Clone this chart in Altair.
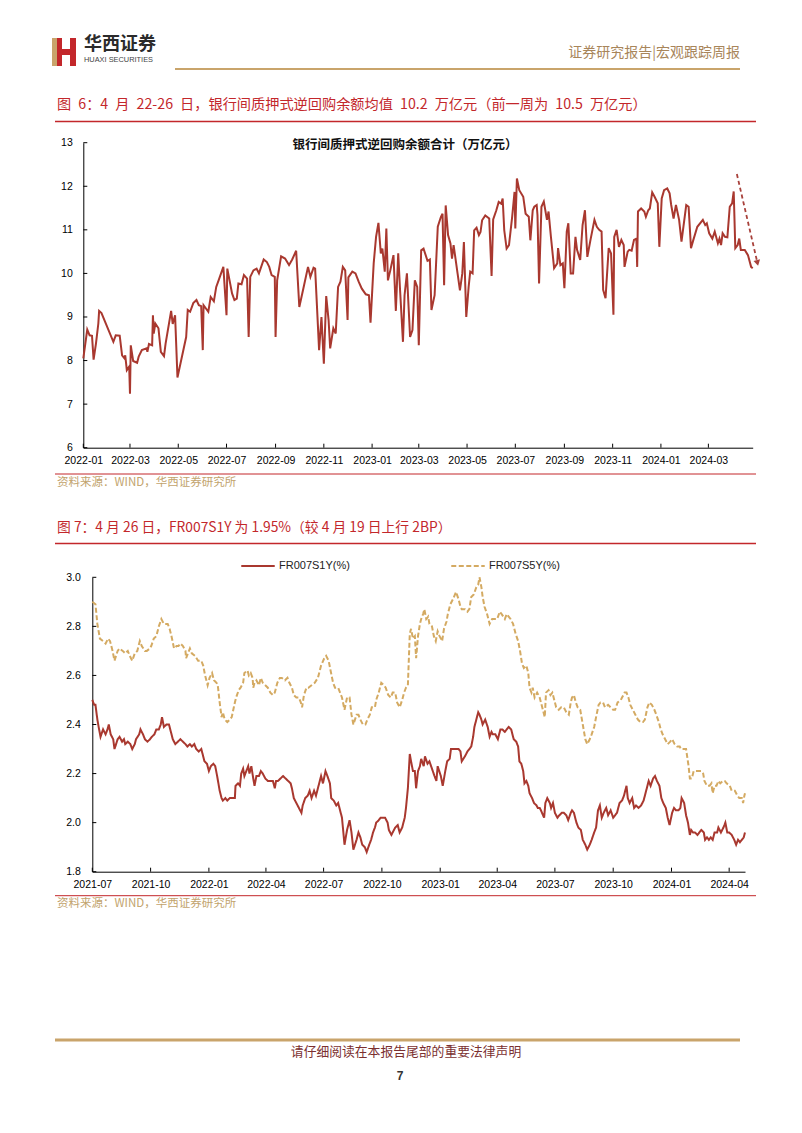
import altair as alt
import pandas as pd

# ---------------- data ----------------
# Fig 6: interbank pledged reverse-repo balance, 10k-billion CNY; days since 2022-01-01
repo_day = [0, 5, 8, 11, 13, 16, 19, 20, 23, 38, 41, 46, 49, 52, 53, 55, 58, 59, 60, 63, 68, 70, 74, 80, 81, 83, 87, 88, 89, 91, 95, 98, 102, 104, 111, 113, 116, 119, 130, 132, 135, 139, 143, 146, 149, 151, 152, 158, 161, 165, 168, 171, 177, 181, 182, 184, 188, 191, 194, 196, 200, 203, 207, 209, 211, 215, 219, 222, 228, 232, 235, 238, 242, 243, 245, 250, 255, 260, 264, 269, 273, 279, 284, 287, 291, 293, 298, 301, 304, 307, 310, 312, 316, 319, 322, 325, 328, 331, 334, 335, 340, 344, 348, 352, 357, 361, 363, 367, 370, 373, 376, 378, 381, 383, 385, 388, 392, 395, 398, 400, 404, 406, 409, 413, 416, 419, 422, 424, 427, 430, 435, 438, 440, 444, 448, 452, 454, 456, 458, 461, 464, 466, 468, 473, 476, 479, 481, 484, 487, 489, 492, 494, 497, 500, 502, 504, 508, 513, 516, 518, 522, 525, 528, 530, 532, 535, 538, 542, 545, 546, 548, 551, 556, 559, 563, 565, 568, 570, 573, 574, 576, 579, 582, 586, 588, 591, 595, 599, 600, 603, 606, 608, 611, 613, 616, 619, 622, 624, 628, 631, 634, 637, 641, 646, 649, 652, 655, 657, 660, 664, 667, 670, 671, 674, 677, 680, 683, 684, 688, 690, 693, 696, 699, 700, 701, 705, 709, 711, 714, 716, 719, 722, 726, 728, 731, 734, 738, 741, 743, 746, 749, 753, 756, 762, 765, 768, 771, 776, 783, 786, 788, 791, 795, 798, 802, 804, 806, 808, 811, 814, 817, 820, 822, 824, 827, 829, 831, 836, 840, 844, 846]
repo_val = [8.05, 8.71, 8.58, 8.57, 8.02, 8.39, 8.85, 9.14, 9.09, 8.43, 8.58, 8.57, 8.12, 8.05, 8.12, 7.78, 7.86, 7.24, 8.35, 7.99, 7.95, 8.09, 8.24, 8.28, 8.20, 8.38, 8.35, 9.04, 8.62, 8.85, 8.74, 8.20, 8.10, 8.39, 9.14, 8.84, 9.04, 7.61, 8.54, 9.16, 9.12, 9.32, 9.39, 9.27, 9.25, 8.24, 9.27, 9.12, 9.46, 9.36, 9.69, 9.84, 10.15, 9.04, 10.11, 9.92, 9.54, 9.39, 9.42, 9.77, 9.75, 9.96, 9.88, 8.54, 9.92, 10.07, 10.11, 10.00, 10.32, 10.26, 10.15, 9.96, 9.92, 8.54, 9.84, 10.39, 10.34, 10.19, 10.32, 10.52, 9.23, 9.73, 10.15, 9.92, 10.13, 10.11, 8.24, 9.00, 7.93, 9.48, 8.93, 8.28, 8.74, 8.62, 9.69, 9.81, 10.15, 10.07, 8.93, 9.91, 10.04, 10.00, 9.81, 9.65, 9.52, 9.50, 8.87, 10.23, 10.84, 11.16, 10.46, 10.57, 10.04, 11.03, 9.84, 10.07, 10.42, 9.14, 10.46, 9.73, 8.43, 9.50, 10.00, 8.54, 8.70, 9.84, 9.69, 8.35, 10.53, 10.57, 10.29, 10.32, 9.16, 9.50, 11.07, 11.30, 11.37, 9.73, 11.56, 10.88, 10.69, 10.34, 10.65, 10.00, 9.61, 10.00, 10.72, 9.00, 9.69, 10.04, 10.00, 10.99, 11.05, 10.88, 10.95, 11.22, 11.33, 11.26, 9.94, 11.24, 11.45, 11.64, 11.60, 11.72, 10.99, 10.57, 10.65, 11.30, 11.87, 11.03, 12.18, 11.91, 11.76, 11.37, 11.30, 10.76, 11.45, 11.53, 11.57, 11.34, 9.77, 11.53, 11.65, 11.23, 11.42, 10.84, 10.12, 10.23, 10.58, 10.19, 10.23, 9.66, 10.96, 11.15, 10.00, 10.00, 10.84, 10.54, 10.31, 11.11, 11.45, 10.38, 10.77, 11.23, 11.07, 11.00, 10.96, 9.62, 9.43, 10.58, 10.46, 9.05, 10.84, 11.00, 10.61, 10.77, 10.65, 10.15, 10.50, 10.54, 10.52, 10.77, 10.80, 10.15, 11.42, 11.49, 11.42, 11.30, 11.45, 11.49, 11.86, 11.76, 11.61, 10.61, 11.72, 11.91, 11.95, 11.84, 11.57, 11.26, 11.57, 11.23, 10.73, 11.57, 11.53, 10.58, 10.77, 11.07, 11.23, 11.11, 11.15, 10.92, 10.80, 10.96, 10.69, 10.80, 10.65, 10.92, 10.84, 10.83, 11.53, 11.61, 11.88, 10.58, 10.65, 10.80, 10.54, 10.54, 10.42, 10.15, 10.12]
repo_xticks = ["2022-01-01", "2022-03-01", "2022-05-01", "2022-07-01", "2022-09-01", "2022-11-01",
               "2023-01-01", "2023-03-01", "2023-05-01", "2023-07-01", "2023-09-01", "2023-11-01",
               "2024-01-01", "2024-03-01"]
repo_yticks = [6, 7, 8, 9, 10, 11, 12, 13]
arrow_day = [826, 852]          # annotation arrow, days since 2022-01-01
arrow_val = [12.28, 10.24]

# Fig 7: FR007 swap rates (%), days since 2021-07-01
s1y_day = [0, 3, 5, 8, 10, 13, 17, 21, 24, 26, 29, 33, 35, 40, 43, 47, 50, 52, 56, 60, 63, 67, 69, 74, 76, 80, 83, 87, 91, 94, 98, 101, 105, 108, 110, 113, 117, 121, 124, 127, 131, 135, 139, 143, 147, 150, 154, 157, 161, 164, 168, 172, 175, 177, 181, 184, 187, 191, 194, 197, 201, 204, 206, 210, 213, 217, 220, 225, 226, 230, 233, 235, 238, 240, 243, 246, 248, 251, 254, 256, 259, 263, 266, 269, 273, 277, 281, 285, 288, 290, 293, 297, 301, 305, 309, 313, 315, 318, 322, 326, 330, 332, 336, 340, 343, 346, 350, 353, 357, 361, 364, 368, 371, 375, 377, 381, 385, 388, 391, 394, 398, 402, 406, 409, 412, 417, 420, 423, 426, 430, 433, 437, 440, 443, 446, 448, 452, 455, 459, 462, 466, 468, 472, 474, 478, 482, 485, 489, 493, 495, 498, 501, 503, 506, 509, 511, 514, 517, 519, 523, 525, 529, 532, 536, 540, 543, 545, 550, 553, 557, 560, 564, 566, 571, 574, 578, 581, 583, 588, 592, 595, 598, 601, 603, 606, 609, 611, 614, 616, 620, 624, 627, 630, 632, 636, 640, 644, 647, 651, 654, 657, 661, 665, 669, 672, 674, 677, 680, 682, 685, 688, 690, 694, 697, 701, 703, 706, 708, 713, 715, 718, 722, 724, 727, 730, 734, 737, 741, 744, 748, 751, 755, 757, 760, 764, 767, 771, 774, 778, 781, 785, 788, 792, 795, 798, 801, 804, 807, 811, 814, 818, 822, 825, 828, 832, 836, 839, 843, 845, 848, 852, 855, 858, 862, 866, 870, 874, 878, 881, 885, 888, 891, 895, 898, 901, 905, 908, 911, 915, 918, 921, 925, 928, 930, 934, 937, 940, 943, 945, 948, 951, 955, 958, 961, 965, 967, 970, 973, 976, 979, 982, 986, 988, 992, 996, 999, 1002, 1005, 1009, 1013, 1016, 1019, 1022, 1025, 1028, 1030]
s1y_val = [2.50, 2.48, 2.48, 2.42, 2.39, 2.35, 2.38, 2.36, 2.38, 2.40, 2.36, 2.34, 2.30, 2.34, 2.35, 2.33, 2.34, 2.32, 2.33, 2.32, 2.30, 2.32, 2.34, 2.36, 2.38, 2.36, 2.34, 2.33, 2.34, 2.35, 2.36, 2.38, 2.38, 2.40, 2.43, 2.39, 2.40, 2.40, 2.37, 2.34, 2.32, 2.33, 2.34, 2.33, 2.32, 2.31, 2.32, 2.31, 2.32, 2.30, 2.29, 2.30, 2.27, 2.25, 2.24, 2.21, 2.23, 2.24, 2.23, 2.19, 2.13, 2.10, 2.09, 2.10, 2.09, 2.10, 2.10, 2.10, 2.15, 2.16, 2.15, 2.20, 2.22, 2.19, 2.21, 2.23, 2.20, 2.23, 2.18, 2.15, 2.19, 2.19, 2.21, 2.20, 2.18, 2.17, 2.17, 2.17, 2.14, 2.17, 2.17, 2.18, 2.19, 2.18, 2.17, 2.16, 2.14, 2.10, 2.08, 2.06, 2.04, 2.07, 2.10, 2.11, 2.13, 2.10, 2.13, 2.11, 2.15, 2.19, 2.16, 2.21, 2.19, 2.16, 2.10, 2.09, 2.07, 2.08, 2.05, 2.02, 1.91, 1.97, 2.01, 1.96, 1.89, 1.93, 1.96, 1.94, 1.91, 1.90, 1.88, 1.91, 1.93, 1.96, 1.98, 2.00, 2.01, 2.02, 2.02, 2.02, 2.00, 1.97, 1.95, 1.96, 1.98, 1.99, 1.96, 1.98, 2.02, 2.06, 2.14, 2.28, 2.25, 2.21, 2.21, 2.14, 2.21, 2.23, 2.26, 2.23, 2.27, 2.24, 2.25, 2.22, 2.19, 2.17, 2.23, 2.19, 2.15, 2.21, 2.25, 2.26, 2.30, 2.30, 2.30, 2.30, 2.29, 2.25, 2.27, 2.29, 2.30, 2.31, 2.35, 2.39, 2.42, 2.45, 2.44, 2.42, 2.40, 2.42, 2.39, 2.35, 2.37, 2.36, 2.36, 2.34, 2.38, 2.38, 2.37, 2.38, 2.39, 2.38, 2.34, 2.33, 2.31, 2.25, 2.24, 2.21, 2.16, 2.17, 2.15, 2.12, 2.10, 2.08, 2.07, 2.06, 2.06, 2.05, 2.02, 2.08, 2.10, 2.08, 2.06, 2.08, 2.04, 2.02, 2.03, 2.04, 2.04, 2.03, 2.01, 2.04, 2.05, 2.04, 2.00, 1.98, 1.97, 1.93, 1.91, 1.89, 1.91, 1.93, 1.96, 1.98, 2.05, 2.07, 2.02, 2.04, 2.06, 2.03, 2.05, 2.02, 2.03, 2.04, 2.08, 2.09, 2.11, 2.15, 2.10, 2.08, 2.10, 2.06, 2.07, 2.06, 2.07, 2.09, 2.13, 2.17, 2.15, 2.18, 2.19, 2.17, 2.15, 2.10, 2.08, 2.06, 2.02, 1.99, 2.04, 2.06, 2.05, 2.05, 2.06, 2.10, 2.08, 2.03, 2.00, 1.95, 1.97, 1.96, 1.96, 1.95, 1.96, 1.97, 1.96, 1.93, 1.94, 1.93, 1.94, 1.93, 1.96, 1.96, 1.98, 1.96, 1.98, 2.00, 1.96, 1.96, 1.95, 1.93, 1.91, 1.93, 1.92, 1.93, 1.94, 1.96]
s5y_day = [0, 5, 8, 12, 17, 21, 25, 28, 32, 35, 40, 43, 48, 52, 56, 59, 63, 67, 71, 75, 78, 83, 86, 91, 93, 97, 101, 105, 109, 113, 117, 119, 122, 125, 129, 133, 136, 139, 143, 147, 148, 154, 157, 162, 167, 172, 175, 178, 182, 185, 189, 192, 196, 198, 201, 204, 206, 209, 213, 217, 220, 225, 227, 231, 234, 238, 240, 245, 247, 250, 253, 254, 256, 259, 263, 266, 269, 273, 277, 281, 285, 288, 292, 296, 299, 304, 308, 311, 315, 318, 322, 326, 329, 331, 334, 338, 341, 346, 351, 356, 361, 366, 369, 373, 376, 380, 383, 388, 391, 394, 398, 402, 406, 409, 412, 417, 420, 423, 427, 431, 434, 438, 441, 446, 448, 452, 456, 460, 463, 467, 471, 474, 478, 481, 485, 489, 492, 495, 498, 501, 503, 506, 509, 511, 514, 517, 519, 522, 524, 527, 530, 532, 536, 539, 542, 545, 548, 552, 555, 559, 561, 565, 569, 574, 578, 581, 583, 588, 592, 595, 598, 602, 606, 609, 611, 614, 616, 619, 623, 627, 631, 635, 639, 643, 646, 651, 654, 657, 660, 664, 668, 672, 675, 678, 681, 685, 688, 690, 693, 695, 698, 702, 706, 708, 711, 714, 716, 720, 723, 726, 728, 732, 736, 740, 744, 748, 752, 755, 757, 760, 763, 766, 770, 774, 778, 781, 785, 788, 792, 795, 799, 802, 806, 809, 814, 818, 822, 825, 829, 834, 836, 840, 843, 846, 849, 853, 857, 861, 865, 869, 872, 876, 879, 883, 887, 890, 894, 897, 900, 904, 908, 912, 915, 919, 923, 927, 929, 934, 937, 941, 943, 946, 949, 953, 957, 961, 964, 966, 970, 974, 977, 979, 982, 985, 988, 991, 995, 998, 1001, 1006, 1009, 1014, 1018, 1021, 1025, 1027, 1029, 1030]
s5y_val = [2.90, 2.89, 2.81, 2.75, 2.74, 2.73, 2.75, 2.74, 2.70, 2.66, 2.70, 2.71, 2.70, 2.69, 2.70, 2.68, 2.66, 2.69, 2.70, 2.74, 2.72, 2.70, 2.70, 2.71, 2.72, 2.75, 2.76, 2.80, 2.83, 2.81, 2.81, 2.81, 2.79, 2.76, 2.71, 2.72, 2.72, 2.73, 2.72, 2.70, 2.67, 2.71, 2.69, 2.68, 2.66, 2.66, 2.64, 2.60, 2.56, 2.59, 2.61, 2.58, 2.57, 2.56, 2.49, 2.43, 2.45, 2.42, 2.41, 2.42, 2.43, 2.49, 2.51, 2.54, 2.55, 2.57, 2.61, 2.62, 2.60, 2.61, 2.59, 2.55, 2.57, 2.58, 2.56, 2.59, 2.57, 2.56, 2.55, 2.53, 2.52, 2.53, 2.57, 2.59, 2.59, 2.58, 2.59, 2.57, 2.55, 2.52, 2.51, 2.51, 2.49, 2.47, 2.52, 2.55, 2.55, 2.56, 2.57, 2.59, 2.64, 2.67, 2.68, 2.66, 2.62, 2.57, 2.55, 2.55, 2.53, 2.51, 2.46, 2.51, 2.51, 2.44, 2.40, 2.44, 2.44, 2.42, 2.40, 2.40, 2.42, 2.44, 2.47, 2.47, 2.50, 2.53, 2.57, 2.56, 2.55, 2.52, 2.51, 2.53, 2.53, 2.49, 2.47, 2.50, 2.53, 2.55, 2.56, 2.77, 2.79, 2.75, 2.76, 2.67, 2.76, 2.81, 2.83, 2.85, 2.87, 2.83, 2.84, 2.81, 2.80, 2.76, 2.74, 2.78, 2.76, 2.74, 2.79, 2.82, 2.85, 2.89, 2.91, 2.94, 2.91, 2.88, 2.87, 2.87, 2.86, 2.87, 2.92, 2.93, 2.96, 2.97, 3.00, 2.96, 2.92, 2.88, 2.85, 2.81, 2.83, 2.83, 2.83, 2.86, 2.85, 2.83, 2.85, 2.84, 2.83, 2.81, 2.77, 2.74, 2.70, 2.65, 2.63, 2.64, 2.61, 2.55, 2.53, 2.55, 2.51, 2.53, 2.51, 2.49, 2.46, 2.43, 2.53, 2.54, 2.52, 2.53, 2.51, 2.47, 2.46, 2.47, 2.47, 2.45, 2.44, 2.49, 2.51, 2.52, 2.49, 2.47, 2.46, 2.40, 2.34, 2.32, 2.34, 2.36, 2.39, 2.43, 2.48, 2.49, 2.49, 2.47, 2.48, 2.47, 2.46, 2.46, 2.49, 2.50, 2.51, 2.53, 2.53, 2.51, 2.48, 2.46, 2.44, 2.42, 2.41, 2.41, 2.42, 2.47, 2.49, 2.48, 2.46, 2.44, 2.41, 2.38, 2.36, 2.34, 2.32, 2.33, 2.34, 2.32, 2.31, 2.31, 2.30, 2.30, 2.30, 2.23, 2.18, 2.18, 2.21, 2.21, 2.21, 2.21, 2.20, 2.17, 2.15, 2.15, 2.16, 2.12, 2.15, 2.15, 2.17, 2.16, 2.17, 2.17, 2.16, 2.15, 2.13, 2.13, 2.11, 2.10, 2.10, 2.08, 2.11, 2.12]
fr_series = ["FR007S1Y(%)", "FR007S5Y(%)"]
fr_xticks = ["2021-07-01", "2021-10-01", "2022-01-01", "2022-04-01", "2022-07-01", "2022-10-01",
             "2023-01-01", "2023-04-01", "2023-07-01", "2023-10-01", "2024-01-01", "2024-04-01"]
fr_yticks = [1.8, 2.0, 2.2, 2.4, 2.6, 2.8, 3.0]

# ---------------- page geometry & styles ----------------
W, H = 786, 1112
M = 8                      # page margin of the html body
RED = "#A9382F"
GOLD = "#D4AA62"
TRED = "#C3272B"
LINEGOLD = "#C9A46B"
SRC = "#C2A36C"
CJK = "Noto Sans CJK SC"
LAT = "Liberation Sans"
EN = "\u2002"

P1 = dict(l=83.3, r=752.7, b=447.7, t=142.7)   # plot rectangle of fig 6 (page px)
P2 = dict(l=92.3, r=745.0, b=871.7, t=577.3)   # plot rectangle of fig 7 (page px)


def ms(s):
    return int(pd.Timestamp(s, tz="UTC").value // 10**6)


def to_dates(base, days):
    b = pd.Timestamp(base)
    return [(b + pd.Timedelta(days=int(d))).strftime("%Y-%m-%d") for d in days]


ONE = pd.DataFrame({"k": [0]})


def txt(s, x, y, size, color, font=CJK, weight="normal", align="left"):
    return alt.Chart(ONE).mark_text(text=s, fontSize=size, color=color, font=font,
                                    fontWeight=weight, align=align, baseline="middle"
                                    ).encode(x=alt.value(x - M), y=alt.value(y - M))


def hline(x0, x1, y, color, w):
    return alt.Chart(ONE).mark_rule(color=color, strokeWidth=w).encode(
        x=alt.value(x0 - M), x2=alt.value(x1 - M), y=alt.value(y - M))


def box(x0, x1, y0, y1, color):
    return alt.Chart(ONE).mark_rect(color=color).encode(
        x=alt.value(x0 - M), x2=alt.value(x1 - M), y=alt.value(y0 - M), y2=alt.value(y1 - M))


axis_common = dict(grid=False, ticks=False, domainColor="#000000", domainWidth=1,
                   labelFont=LAT, labelFontSize=10.5, labelColor="#000000", title=None,
                   labelOverlap=False, labelFlush=False)

# ---------------- fig 6 ----------------
df1 = pd.DataFrame({"date": to_dates("2022-01-01", repo_day), "value": repo_val})
sx1 = alt.Scale(type="utc", domain=[ms("2022-01-01"), ms("2024-04-26")], range=[P1["l"] - M, P1["r"] - M])
sy1 = alt.Scale(domain=[6, 13], range=[P1["b"] - M, P1["t"] - M], zero=False, nice=False)

line1 = alt.Chart(df1).mark_line(color=RED, strokeWidth=2).encode(
    x=alt.X("date:T", scale=sx1,
            axis=alt.Axis(orient="bottom", offset=(P1["b"] - M) - H, values=[ms(t) for t in repo_xticks],
                          format="%Y-%m", labelPadding=8, **axis_common)),
    y=alt.Y("value:Q", scale=sy1,
            axis=alt.Axis(orient="left", offset=-(P1["l"] - M), values=repo_yticks, format="d",
                          labelPadding=11, **axis_common)))

# inward tick marks (same scales as the axes)
xt1 = alt.Chart(pd.DataFrame({"date": repo_xticks})).mark_rule(color="#000000", strokeWidth=1).encode(
    x=alt.X("date:T", scale=sx1), y=alt.value(P1["b"] - M - 4), y2=alt.value(P1["b"] - M))
yt1 = alt.Chart(pd.DataFrame({"value": repo_yticks})).mark_rule(color="#000000", strokeWidth=1).encode(
    y=alt.Y("value:Q", scale=sy1), x=alt.value(P1["l"] - M), x2=alt.value(P1["l"] - M + 4))

df_arrow = pd.DataFrame({"date": to_dates("2022-01-01", arrow_day), "value": arrow_val})
arrow = alt.Chart(df_arrow).mark_line(color="#A8413B", strokeWidth=1.8, strokeDash=[4, 3]).encode(
    x=alt.X("date:T", scale=sx1), y=alt.Y("value:Q", scale=sy1))
arrow_head = alt.Chart(df_arrow.tail(1)).mark_point(shape="triangle-down", filled=True, size=45,
                                                    angle=347, color="#A8413B", opacity=1).encode(
    x=alt.X("date:T", scale=sx1), y=alt.Y("value:Q", scale=sy1))

fig6 = alt.layer(line1, xt1, yt1, arrow, arrow_head)

# ---------------- fig 7 ----------------
df2 = pd.concat([
    pd.DataFrame({"date": to_dates("2021-07-01", s1y_day), "value": s1y_val, "series": fr_series[0]}),
    pd.DataFrame({"date": to_dates("2021-07-01", s5y_day), "value": s5y_val, "series": fr_series[1]}),
])
sx2 = alt.Scale(type="utc", domain=[ms("2021-07-01"), ms("2024-04-26")], range=[P2["l"] - M, P2["r"] - M])
sy2 = alt.Scale(domain=[1.8, 3.0], range=[P2["b"] - M, P2["t"] - M], zero=False, nice=False)
leg = dict(orient="none", legendX=240 - M, legendY=548 - M, direction="horizontal", title=None,
           symbolType="stroke", symbolSize=1120, symbolStrokeWidth=2, labelFont=LAT, labelFontSize=11,
           labelColor="#222222", columnPadding=97, labelOffset=3, padding=0)

line2 = alt.Chart(df2).mark_line(strokeWidth=2).encode(
    x=alt.X("date:T", scale=sx2,
            axis=alt.Axis(orient="bottom", offset=(P2["b"] - M) - H, values=[ms(t) for t in fr_xticks],
                          format="%Y-%m", labelPadding=8, **axis_common)),
    y=alt.Y("value:Q", scale=sy2,
            axis=alt.Axis(orient="left", offset=-(P2["l"] - M), values=fr_yticks, format=".1f",
                          labelPadding=12, **axis_common)),
    color=alt.Color("series:N", scale=alt.Scale(domain=fr_series, range=[RED, GOLD]), legend=alt.Legend(**leg)),
    strokeDash=alt.StrokeDash("series:N", scale=alt.Scale(domain=fr_series, range=[[1, 0], [5, 2.5]]),
                              legend=alt.Legend(**leg)),
)
xt2 = alt.Chart(pd.DataFrame({"date": fr_xticks})).mark_rule(color="#000000", strokeWidth=1).encode(
    x=alt.X("date:T", scale=sx2), y=alt.value(P2["b"] - M - 4), y2=alt.value(P2["b"] - M))
yt2 = alt.Chart(pd.DataFrame({"value": fr_yticks})).mark_rule(color="#000000", strokeWidth=1).encode(
    y=alt.Y("value:Q", scale=sy2), x=alt.value(P2["l"] - M), x2=alt.value(P2["l"] - M + 4))

fig7 = alt.layer(line2, xt2, yt2)

# ---------------- page decorations ----------------
deco = [
    # logo
    box(52, 57, 38, 66, LINEGOLD),
    box(57, 62, 38, 66, TRED),
    box(70, 76, 38, 66, TRED),
    box(62, 70, 49, 55, TRED),
    txt("华西证券", 84, 45, 18, "#2B2B2B", weight="bold"),
    txt("HUAXI SECURITIES", 84, 60, 7.4, "#444444", font=LAT),
    txt("证券研究报告|宏观跟踪周报", 740, 53, 14, "#A8855A", align="right"),
    hline(175, 740, 69, LINEGOLD, 2),
    txt(f"图{EN}6：4{EN}月{EN}22-26{EN}日，银行间质押式逆回购余额均值{EN}10.2{EN}万亿元（前一周为{EN}10.5{EN}万亿元）",
        57, 105, 14.2, TRED),
    hline(55, 756, 121.5, TRED, 1.3),
    txt("银行间质押式逆回购余额合计（万亿元）", 405, 145, 12.5, "#111111", weight="bold", align="center"),
    hline(55, 756, 474, TRED, 1),
    txt("资料来源：WIND，华西证券研究所", 57, 483, 11.5, SRC),
    txt("图 7：4 月 26 日，FR007S1Y 为 1.95%（较 4 月 19 日上行 2BP）", 57, 528, 13.8, TRED),
    hline(55, 756, 543.5, TRED, 1.3),
    hline(55, 756, 895.7, TRED, 1),
    txt("资料来源：WIND，华西证券研究所", 57, 904, 11.5, SRC),
    hline(55, 740, 1040, LINEGOLD, 3),
    txt("请仔细阅读在本报告尾部的重要法律声明", 406, 1052, 12.8, "#7B2F2F", align="center"),
    txt("7", 400, 1076, 12, "#333333", font=LAT, weight="bold", align="center"),
]

chart = alt.layer(*deco, fig6, fig7).resolve_scale(
    x="independent", y="independent", color="independent", strokeDash="independent"
).properties(
    width=W, height=H, autosize=alt.AutoSizeParams(type="none"), padding=0
).configure_view(strokeWidth=0)

chart.save("out.html", embed_options={"renderer": "svg", "actions": False})
